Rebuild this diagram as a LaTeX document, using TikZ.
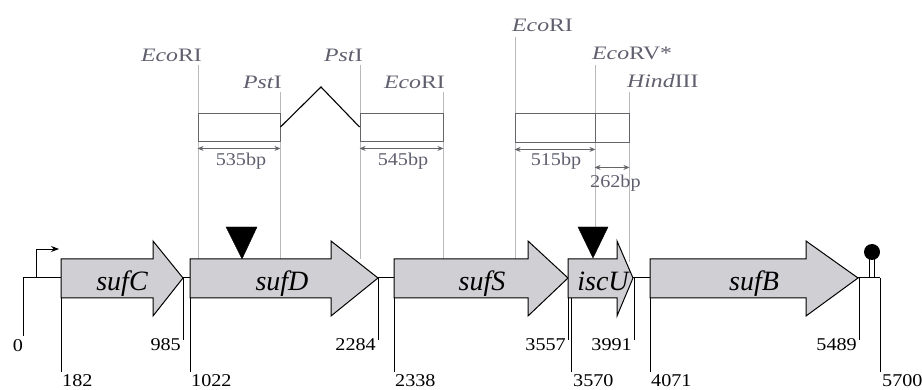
\documentclass[tikz,border=0pt]{standalone}
\usepackage{fontspec}
\setmainfont{Liberation Serif}
\newfontfamily\sitefont[FakeStretch=1.25]{Liberation Serif}
\newfontfamily\bpfont[FakeStretch=1.12]{Liberation Serif}
\usetikzlibrary{arrows.meta}
\definecolor{genegray}{RGB}{208,208,212}
\definecolor{labgray}{RGB}{95,95,110}
\definecolor{dotgray}{RGB}{185,185,190}
\definecolor{boxgray}{RGB}{100,100,105}
\newcommand\genearrow[3]{%
  \draw[genebox] (#1,259) -- (#2,259) -- (#2,241) -- (#3,278) -- (#2,316) -- (#2,298) -- (#1,298) -- cycle;}
\begin{document}
\begin{tikzpicture}[x=1pt,y=-1pt,
  genebox/.style={draw=black,line width=1pt,fill=genegray,line join=miter},
  genelab/.style={font=\fontsize{28}{28}\selectfont\itshape,inner sep=0pt,anchor=base},
  numlab/.style={font=\bpfont\fontsize{18}{18}\selectfont,inner sep=0pt,text=black},
  sitelab/.style={font=\sitefont\fontsize{19}{19}\selectfont,inner sep=0pt,text=labgray},
  bplab/.style={font=\bpfont\fontsize{18}{18}\selectfont,inner sep=0pt,text=labgray},
  siteline/.style={draw=dotgray,line width=0.6pt},
  tickline/.style={draw=black,line width=1pt},
  fragbox/.style={draw=boxgray,line width=0.9pt,fill=white,inner sep=0pt},
  dimarrow/.style={draw=boxgray,line width=0.8pt,{Stealth[length=6pt,width=5pt]}-{Stealth[length=6pt,width=5pt]}},
  insert/.style={fill=black,draw=black}
]
\useasboundingbox (0,0) rectangle (922,390);

% ---------- restriction site lines ----------
\draw[siteline] (198,65) -- (198,259);
\draw[siteline] (280,92) -- (280,259);
\draw[siteline] (360,65) -- (360,259);
\draw[siteline] (443,92) -- (443,259);
\draw[siteline] (515,37) -- (515,259);
\draw[siteline] (595,65) -- (595,227);
\draw[siteline] (629,92) -- (629,262);

% ---------- restriction labels ----------
\node[sitelab,anchor=base east] (lE1) at (202,62) {\textit{Eco}RI};
\node[sitelab,anchor=base east] (lP1) at (282,89) {\textit{Pst}I};
\node[sitelab,anchor=base east] (lP2) at (363,62) {\textit{Pst}I};
\node[sitelab,anchor=base east] (lE2) at (445,89) {\textit{Eco}RI};
\node[sitelab,anchor=base west] (lE3) at (512,32) {\textit{Eco}RI};
\node[sitelab,anchor=base west] (lRV) at (592,60) {\textit{Eco}RV*};
\node[sitelab,anchor=base west] (lH) at (627,88) {\textit{Hind}III};

% ---------- fragment boxes ----------
\node[fragbox,minimum width=82pt,minimum height=28pt] (f1) at (239,127) {};
\node[fragbox,minimum width=83pt,minimum height=28pt] (f2) at (401.5,127) {};
\node[fragbox,minimum width=80pt,minimum height=29pt] (f3) at (555,127.5) {};
\node[fragbox,minimum width=34pt,minimum height=29pt] (f4) at (612,127.5) {};
\coordinate (peak) at (321,87);
\draw[black,line width=1.1pt] (f1.east) -- (peak) -- (f2.west);

% ---------- dimension arrows ----------
\draw[dimarrow] ([yshift=-7pt]f1.south west) -- ([yshift=-7pt]f1.south east);
\draw[dimarrow] ([yshift=-7pt]f2.south west) -- ([yshift=-7pt]f2.south east);
\draw[dimarrow] ([yshift=-7pt]f3.south west) -- ([yshift=-7pt]f3.south east);
\draw[dimarrow] ([yshift=-25pt]f4.south west) -- ([yshift=-25pt]f4.south east);
\node[bplab,anchor=north] (b1) at (241,153) {535bp};
\node[bplab,anchor=north] (b2) at (403,153) {545bp};
\node[bplab,anchor=north] (b3) at (556,153) {515bp};
\node[bplab,anchor=north west] (b4) at (590,175) {262bp};

% ---------- backbone and ticks ----------
\draw[tickline] (23,278) -- (880,278);
\draw[tickline] (23,278) -- (23,336);
\draw[tickline] (61,278) -- (61,372);
\draw[tickline] (183,278) -- (183,340);
\draw[tickline] (190,278) -- (190,372);
\draw[tickline] (378,278) -- (378,340);
\draw[tickline] (394,278) -- (394,372);
\draw[tickline] (568,278) -- (568,340);
\draw[tickline] (571,278) -- (571,372);
\draw[tickline] (634,278) -- (634,340);
\draw[tickline] (650,278) -- (650,372);
\draw[tickline] (859,278) -- (859,340);
\draw[tickline] (880,278) -- (880,372);

% ---------- promoter ----------
\coordinate (prom0) at (36,278);
\coordinate (prom1) at (36,249);
\coordinate (prom2) at (59,249);
\draw[black,line width=0.8pt,-{Stealth[length=8pt,width=6pt]}] (prom0) -- (prom1) -- (prom2);

% ---------- terminator ----------
\draw[black,line width=0.9pt] (869,278) -- (869,256);
\draw[black,line width=0.9pt] (874,278) -- (874,256);
\fill[black] (872,252) circle (8);

% ---------- genes ----------
\genearrow{61}{153}{183}
\genearrow{190}{331}{378}
\genearrow{394}{528}{568}
\genearrow{568}{617}{633}
\genearrow{650}{806}{858}
\node[genelab] (gC) at (122,291) {sufC};
\node[genelab] (gD) at (282,291) {sufD};
\node[genelab] (gS) at (482,291) {sufS};
\node[genelab] (gU) at (603,291) {iscU};
\node[genelab] (gB) at (754,291) {sufB};

% ---------- insertion triangles ----------
\draw[insert] (226,227) -- (257,227) -- (242,259) -- cycle;
\draw[insert] (578,227) -- (608,227) -- (593,258) -- cycle;

% ---------- coordinates ----------
\node[numlab,anchor=north] (n0) at (18,339) {0};
\node[numlab,anchor=north east] (n985) at (181,338) {985};
\node[numlab,anchor=north east] (n2284) at (376,338) {2284};
\node[numlab,anchor=north east] (n3557) at (566,338) {3557};
\node[numlab,anchor=north east] (n3991) at (632,338) {3991};
\node[numlab,anchor=north east] (n5489) at (857,338) {5489};
\node[numlab,anchor=north west] (n182) at (62,374) {182};
\node[numlab,anchor=north west] (n1022) at (191,374) {1022};
\node[numlab,anchor=north west] (n2338) at (395,374) {2338};
\node[numlab,anchor=north west] (n3570) at (573,374) {3570};
\node[numlab,anchor=north west] (n4071) at (651,374) {4071};
\node[numlab,anchor=north west] (n5700) at (882,374) {5700};
\end{tikzpicture}
\end{document}
